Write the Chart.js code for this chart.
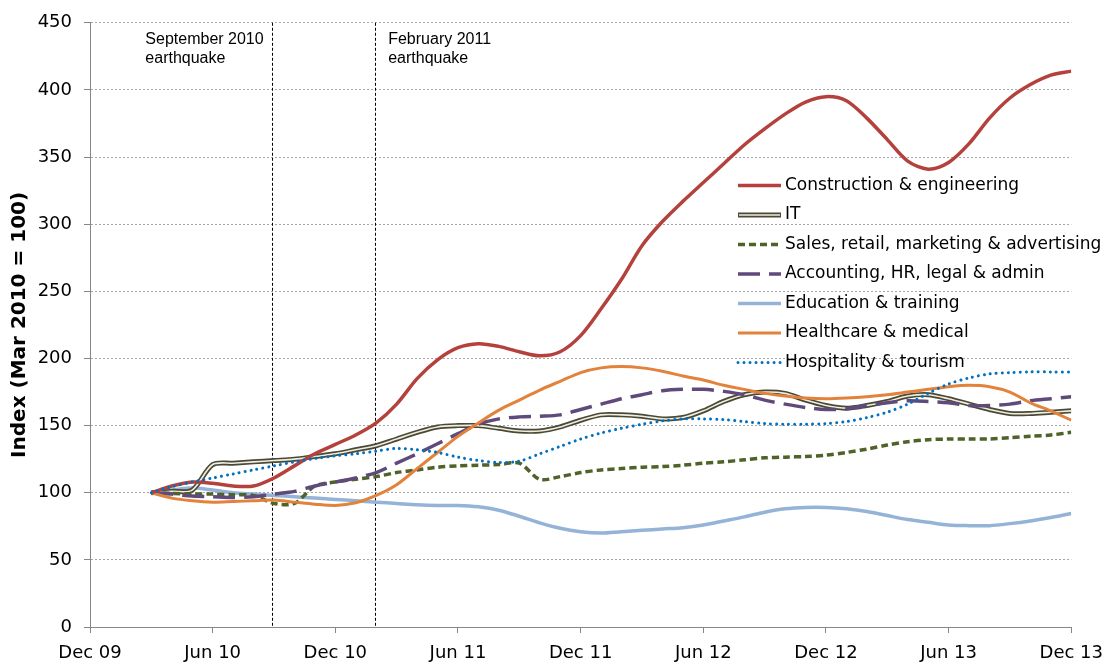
<!DOCTYPE html>
<html>
<head>
<meta charset="utf-8">
<script src="https://cdn.jsdelivr.net/npm/chart.js@4.4.0/dist/chart.umd.min.js"></script>
<style>
html,body{margin:0;padding:0;background:#fff;}
#wrap{width:1113px;height:666px;position:relative;}
</style>
</head>
<body>
<div id="wrap"><canvas id="c" width="1113" height="666"></canvas></div>
<script>
// ---- Data (monthly, Mar 2010 .. Dec 2013) ----
const months = [
  'Mar 10','Apr 10','May 10','Jun 10','Jul 10','Aug 10','Sep 10','Oct 10','Nov 10','Dec 10',
  'Jan 11','Feb 11','Mar 11','Apr 11','May 11','Jun 11','Jul 11','Aug 11','Sep 11','Oct 11','Nov 11','Dec 11',
  'Jan 12','Feb 12','Mar 12','Apr 12','May 12','Jun 12','Jul 12','Aug 12','Sep 12','Oct 12','Nov 12','Dec 12',
  'Jan 13','Feb 13','Mar 13','Apr 13','May 13','Jun 13','Jul 13','Aug 13','Sep 13','Oct 13','Nov 13','Dec 13'
];
const firstMonthOffset = 3; // Mar 10 is 3 months after Dec 09
const tickLabels = ['Dec 09','Jun 10','Dec 10','Jun 11','Dec 11','Jun 12','Dec 12','Jun 13','Dec 13'];

const construction = [100,105,108,107,105,105,111,120,129,136, 143,152,166,185,199,208,211,209,205,202,205,217, 237,259,284,302,317,331,345,359,371,382,391,395, 392,379,363,347,341,346,360,379,394,404,411,414];
const it = [100,101,102,121,122,123,124,125,127,129, 132,135,140,145,149,150,150,148,146,146,149,154, 158,158,157,155,156,161,168,173,175,174,169,165, 163,165,168,172,173,170,166,162,159,159,160,161];
const sales = [100,99.5,99,99,98.5,98,92,92,105,108, 110,112,115,117,119,120,120.5,121,122,110,112,115, 117,118,119,119.5,120.5,122,123,124.5,126,126.5,127,128, 130,132.5,135.5,138,139.5,140,140,140,141,142,143,145];
const accounting = [100,99,97.5,97,96.5,97,99,101,105,108, 111,115,122,129,136.5,144,151,155,156.5,157,158,162, 166,170,173,176,177,177,175.5,173,169,166,163.5,162, 162.5,165,167,168.5,168,167,165,165,166,168.5,170,171.5];
const education = [100,102,103.5,102,100,99,98,97,96,95, 94,93,92,91,90.5,90.5,89.5,87,82.5,77.5,73.5,71, 70,71,72,73,74,76,79,82,85.5,88,89,89, 88,86,83,80,78,76,75.5,75.5,77,79,81.5,84.5];
const healthcare = [100,96,94,93,93.5,94,94.5,93,91.5,90.5, 92.5,98,106,118,130,142,152,161.5,169,176.5,183,189.5, 193,194,193,190.5,187,184,180,177,174,172,170.5,170, 170.5,171.5,173,175,177,179,180,179,175,167,161,154];
const hospitality = [100,104.5,108,111,114,117,120,123,125.5,127.5, 129,131,133,132,130,126.5,124,122.5,123.5,129,134.5,140, 144.5,148,151,153.5,155,155,154.5,153,151.5,151,151,151.5, 153,156,160,166,174,181,185.5,188.5,189.5,190,190,190];

const seriesNames = ['Construction & engineering','IT','Sales, retail, marketing & advertising','Accounting, HR, legal & admin','Education & training','Healthcare & medical','Hospitality & tourism'];

const eventMonths = [8.92, 13.95];   // Sep 2010, Feb 2011 (months after Dec 09)
const eventLabels = [['September 2010','earthquake'],['February 2011','earthquake']];

// ---- build ----
const FONT = 'DejaVu Sans';
function pts(arr){ return arr.map((v,i)=>({x: i + firstMonthOffset, y: v})); }

const common = {pointRadius:0, pointHoverRadius:0, tension:0.3, fill:false};
const datasets = [
  Object.assign({label:seriesNames[0], data:pts(construction), borderColor:'#b4413c', borderWidth:3.5, order:1}, common),
  Object.assign({label:seriesNames[1], data:pts(it), borderColor:'#4a4934', borderWidth:5, order:6, itOuter:true}, common),
  Object.assign({label:'', data:pts(it), borderColor:'#efede2', borderWidth:1.6, order:5, noLegend:true}, common),
  Object.assign({label:seriesNames[2], data:pts(sales), borderColor:'#4f6228', borderWidth:3.5, borderDash:[7,4], order:4}, common),
  Object.assign({label:seriesNames[3], data:pts(accounting), borderColor:'#604a7b', borderWidth:3.5, borderDash:[22,9], order:3}, common),
  Object.assign({label:seriesNames[4], data:pts(education), borderColor:'#95b3d7', borderWidth:3.5, order:7}, common),
  Object.assign({label:seriesNames[5], data:pts(healthcare), borderColor:'#e3823b', borderWidth:3, order:2}, common),
  Object.assign({label:seriesNames[6], data:pts(hospitality), borderColor:'#0070c0', borderWidth:3, borderDash:[0.01,6], borderCapStyle:'round', order:0}, common)
];

const eventPlugin = {
  id:'events',
  beforeDatasetsDraw(chart){
    const {ctx, chartArea:a, scales:{x}} = chart;
    ctx.save();
    ctx.strokeStyle = '#000';
    ctx.lineWidth = 1;
    ctx.setLineDash([3,2]);
    eventMonths.forEach(m=>{
      const px = Math.round(x.getPixelForValue(m)) + 0.5;
      ctx.beginPath(); ctx.moveTo(px, a.top); ctx.lineTo(px, a.bottom); ctx.stroke();
    });
    ctx.setLineDash([]);
    ctx.fillStyle = '#000';
    ctx.font = '16px "Liberation Sans"';
    ctx.textBaseline = 'middle';
    ctx.textAlign = 'left';
    eventMonths.forEach((m,k)=>{
      const px = x.getPixelForValue(m);
      const lines = eventLabels[k];
      const left = k === 0 ? px - 127 : px + 13;
      lines.forEach((t,j)=> ctx.fillText(t, left, a.top + 17 + j*19));
    });
    ctx.restore();
  }
};

const legendPlugin = {
  id:'customLegend',
  afterDatasetsDraw(chart){
    const {ctx} = chart;
    const lx = 738, lw = 43, ty0 = 185.5, step = 29.5;
    ctx.save();
    ctx.font = '17px "' + FONT + '"';
    ctx.textBaseline = 'middle';
    ctx.textAlign = 'left';
    let row = 0;
    chart.data.datasets.forEach((d)=>{
      if (d.noLegend) return;
      const y = ty0 + row*step;
      ctx.lineCap = d.borderCapStyle || 'butt';
      ctx.setLineDash(d.borderDash || []);
      ctx.strokeStyle = d.borderColor;
      ctx.lineWidth = d.borderWidth;
      ctx.beginPath(); ctx.moveTo(lx, y); ctx.lineTo(lx+lw, y); ctx.stroke();
      if (d.itOuter) {
        ctx.strokeStyle = '#efede2'; ctx.lineWidth = 1.6;
        ctx.beginPath(); ctx.moveTo(lx+1, y); ctx.lineTo(lx+lw-1, y); ctx.stroke();
      }
      ctx.setLineDash([]);
      ctx.fillStyle = '#000';
      ctx.fillText(d.label, lx + lw + 4, y);
      row++;
    });
    ctx.restore();
  }
};

new Chart(document.getElementById('c'), {
  type:'line',
  data:{datasets},
  options:{
    responsive:false,
    animation:false,
    layout:{padding:{top:17, right:40, bottom:0, left:0}},
    plugins:{legend:{display:false}, tooltip:{enabled:false}},
    scales:{
      x:{
        type:'linear', min:0, max:48,
        ticks:{stepSize:6, autoSkip:false, maxRotation:0, color:'#000', padding:10,
          font:{family:FONT, size:18},
          callback:(v)=> (v % 6 === 0 ? tickLabels[v/6] : '')},
        grid:{drawOnChartArea:false, drawTicks:true, tickLength:6, color:'#868686', tickColor:'#868686'},
        border:{color:'#868686', width:1},
        afterFit:(s)=>{ s.height = 39; }
      },
      y:{
        min:0, max:450,
        ticks:{stepSize:50, color:'#000', padding:12, font:{family:FONT, size:18}},
        grid:{color:'#a6a6a6', tickColor:'#868686', tickLength:6, tickBorderDash:[]},
        border:{color:'#868686', width:1, dash:[2,2]},
        title:{display:true, text:'Index (Mar 2010 = 100)', color:'#000', font:{family:FONT, size:20, weight:'bold'}, padding:{top:8, bottom:0}},
        afterFit:(s)=>{ s.width = 90; }
      }
    }
  },
  plugins:[eventPlugin, legendPlugin]
});
</script>
</body>
</html>
